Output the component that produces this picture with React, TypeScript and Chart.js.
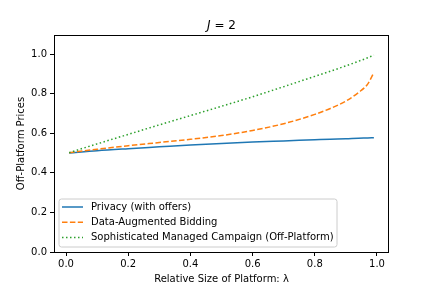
import React, { useEffect, useRef } from "react";
import { Chart, registerables } from "chart.js";

Chart.register(...registerables);

const LAMBDA = [0.01, 0.1, 0.2, 0.3, 0.4, 0.5, 0.6, 0.7, 0.8, 0.85, 0.9, 0.94, 0.97, 0.99];
const PRIVACY = [0.5, 0.512, 0.522, 0.531, 0.54, 0.548, 0.555, 0.561, 0.567, 0.57, 0.572, 0.575, 0.576, 0.577];
const DATA_AUGMENTED = [0.501, 0.519, 0.537, 0.553, 0.569, 0.588, 0.614, 0.648, 0.695, 0.725, 0.762, 0.805, 0.848, 0.906];
const SOPHISTICATED = [0.502, 0.546, 0.594, 0.642, 0.689, 0.736, 0.784, 0.835, 0.887, 0.913, 0.94, 0.963, 0.981, 0.995];

const SERIES_NAMES = [
  "Privacy (with offers)",
  "Data-Augmented Bidding",
  "Sophisticated Managed Campaign (Off-Platform)",
];
const X_TICKS = [0, 0.2, 0.4, 0.6, 0.8, 1.0];
const Y_TICKS = [0, 0.2, 0.4, 0.6, 0.8, 1.0];

const COLORS = ["#1f77b4", "#ff7f0e", "#2ca02c"];
const DASHES: number[][] = [[], [5.5, 2.4], [1.5, 2.5]];
const FONT = "'DejaVu Sans', sans-serif";

const zip = (ys: number[]) => LAMBDA.map((x, i) => ({ x, y: ys[i] }));

export default function App() {
  const ref = useRef<HTMLCanvasElement | null>(null);

  useEffect(() => {
    document.body.style.margin = "0";
    const canvas = ref.current;
    if (!canvas) return;

    const framePlugin = {
      id: "frame",
      afterDraw(chart: any) {
        const { ctx, chartArea } = chart;
        const { left, right, top, bottom } = chartArea;
        ctx.save();
        ctx.strokeStyle = "#000";
        ctx.lineWidth = 1;
        ctx.strokeRect(left + 0.5, top + 0.5, right - left - 1, bottom - top);
        // title
        const cx = (left + right) / 2;
        ctx.fillStyle = "#000";
        ctx.textBaseline = "alphabetic";
        ctx.font = `italic 12px ${FONT}`;
        const wJ = ctx.measureText("J").width;
        ctx.font = `12px ${FONT}`;
        const rest = " = 2";
        const wR = ctx.measureText(rest).width;
        const start = cx - (wJ + wR) / 2;
        ctx.font = `italic 12px ${FONT}`;
        ctx.textAlign = "left";
        ctx.fillText("J", start, top - 6);
        ctx.font = `12px ${FONT}`;
        ctx.fillText(rest, start + wJ, top - 6);

        // legend
        const lx = 59, ly = 199, lw = 278, lh = 48;
        ctx.beginPath();
        const r = 2.5;
        ctx.moveTo(lx + r, ly);
        ctx.lineTo(lx + lw - r, ly);
        ctx.quadraticCurveTo(lx + lw, ly, lx + lw, ly + r);
        ctx.lineTo(lx + lw, ly + lh - r);
        ctx.quadraticCurveTo(lx + lw, ly + lh, lx + lw - r, ly + lh);
        ctx.lineTo(lx + r, ly + lh);
        ctx.quadraticCurveTo(lx, ly + lh, lx, ly + lh - r);
        ctx.lineTo(lx, ly + r);
        ctx.quadraticCurveTo(lx, ly, lx + r, ly);
        ctx.closePath();
        ctx.fillStyle = "rgba(255,255,255,0.8)";
        ctx.fill();
        ctx.strokeStyle = "#cccccc";
        ctx.lineWidth = 1;
        ctx.stroke();
        const rows = [207, 222.3, 237.5];
        SERIES_NAMES.forEach((name, i) => {
          ctx.beginPath();
          ctx.setLineDash(DASHES[i]);
          ctx.strokeStyle = COLORS[i];
          ctx.lineWidth = 1.5;
          ctx.moveTo(62, rows[i]);
          ctx.lineTo(83, rows[i]);
          ctx.stroke();
          ctx.setLineDash([]);
          ctx.fillStyle = "#000";
          ctx.font = `10px ${FONT}`;
          ctx.textAlign = "left";
          ctx.textBaseline = "middle";
          ctx.fillText(name, 91, rows[i]);
        });
        ctx.restore();
      },
    };

    const chart = new Chart(canvas, {
      type: "line",
      data: {
        datasets: [PRIVACY, DATA_AUGMENTED, SOPHISTICATED].map((ys, i) => ({
          label: SERIES_NAMES[i],
          data: zip(ys),
          borderColor: COLORS[i],
          backgroundColor: COLORS[i],
          borderWidth: 1.5,
          borderDash: DASHES[i],
          pointRadius: 0,
          cubicInterpolationMode: "monotone" as const,
          fill: false,
          order: 2 - i,
        })),
      },
      options: {
        responsive: false,
        animation: false,
        devicePixelRatio: 1,
        layout: { padding: { top: 35, right: 43, left: 0, bottom: 0 } },
        plugins: {
          legend: { display: false },
          title: { display: false },
          tooltip: { enabled: false },
        },
        scales: {
          x: {
            type: "linear",
            min: -0.0386,
            max: 1.0386,
            afterBuildTicks: (axis: any) => {
              axis.ticks = X_TICKS.map((v) => ({ value: v }));
            },
            afterFit: (axis: any) => {
              axis.height = 36;
            },
            border: { display: false },
            grid: { drawOnChartArea: false, drawTicks: true, tickLength: 4, color: "#000" },
            ticks: {
              color: "#000",
              font: { family: FONT, size: 10 },
              padding: 2,
              maxRotation: 0,
              callback: (v: any) => Number(v).toFixed(1),
            },
            title: {
              display: true,
              text: "Relative Size of Platform: λ",
              color: "#000",
              font: { family: FONT, size: 10 },
              padding: { top: 0, bottom: 3 },
            },
          },
          y: {
            type: "linear",
            min: 0,
            max: 1.096,
            afterBuildTicks: (axis: any) => {
              axis.ticks = Y_TICKS.map((v) => ({ value: v }));
            },
            afterFit: (axis: any) => {
              axis.width = 54;
            },
            border: { display: false },
            grid: { drawOnChartArea: false, drawTicks: true, tickLength: 4, color: "#000" },
            ticks: {
              color: "#000",
              font: { family: FONT, size: 10 },
              padding: 3,
              callback: (v: any) => Number(v).toFixed(1),
            },
            title: {
              display: true,
              text: "Off-Platform Prices",
              color: "#000",
              font: { family: FONT, size: 10 },
              padding: { top: 15, bottom: 0 },
            },
          },
        },
      },
      plugins: [framePlugin],
    });

    return () => chart.destroy();
  }, []);

  return (
    <div style={{ width: 432, height: 288 }}>
      <canvas ref={ref} width={432} height={288} />
    </div>
  );
}
